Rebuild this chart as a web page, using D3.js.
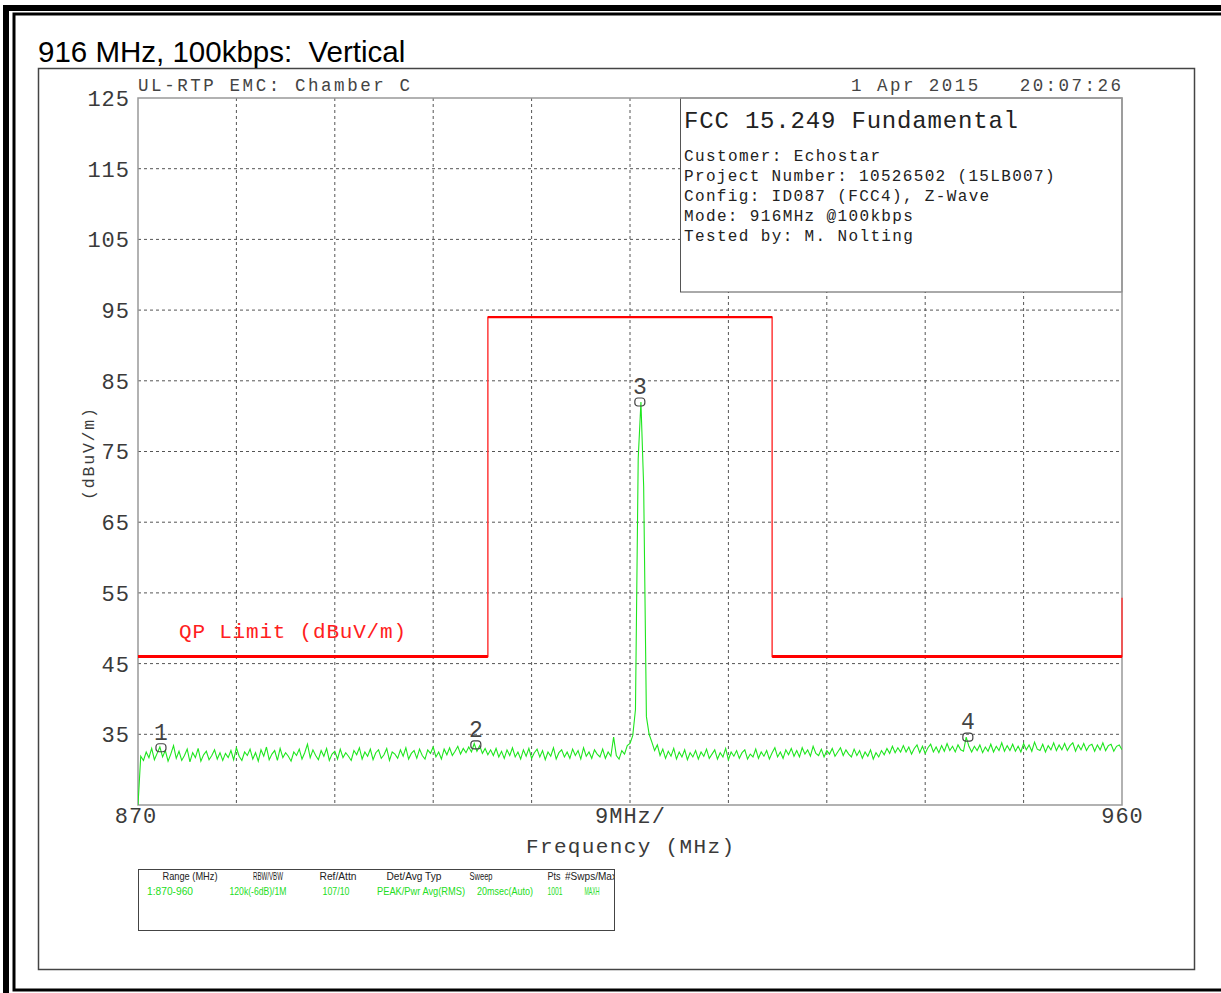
<!DOCTYPE html>
<html lang="en">
<head>
<meta charset="UTF-8">
<title>916 MHz, 100kbps: Vertical</title>
<script src="https://cdn.jsdelivr.net/npm/d3@7"></script>
<style>
  body { margin: 0; background: #fff; }
  svg text { font-family: "Liberation Mono", "DejaVu Sans Mono", monospace; white-space: pre; }
</style>
</head>
<body>
<svg id="main" width="1221" height="993"></svg>
<script>
// ---- data ----
const title = '916 MHz, 100kbps:  Vertical';
const siteLabel = 'UL-RTP EMC: Chamber C';
const dateLabel = '1 Apr 2015   20:07:26';
const infoTitle = 'FCC 15.249 Fundamental';
const infoLines = [
    'Customer: Echostar',
    'Project Number: 10526502 (15LB007)',
    'Config: ID087 (FCC4), Z-Wave',
    'Mode: 916MHz @100kbps',
    'Tested by: M. Nolting'
];

const yTicks = [35, 45, 55, 65, 75, 85, 95, 105, 115, 125];
const xGridFreqs = [879, 888, 897, 906, 915, 924, 933, 942, 951];
const xTickFreqs = [870, 915, 960];
const xTickLabels = ['870', '9MHz/', '960'];

// measured trace, one value every 0.25 MHz from 870 to 960 MHz (dBuV/m)
const traceStart = 870, traceStep = 0.25;
const traceLevels = [
    25.0, 31.9, 31.3, 32.5, 31.7, 33.0, 31.4, 32.3, 33.2, 31.8, 32.7, 31.2, 32.2, 33.4, 31.6, 32.6, 31.3, 32.0, 32.9, 31.1,
    32.4, 31.7, 33.0, 31.2, 32.1, 32.6, 31.4, 32.0, 32.8, 31.5, 32.4, 31.3, 32.3, 31.7, 32.7, 31.4, 33.1, 31.9, 31.3, 32.5,
    32.0, 32.9, 31.5, 32.4, 31.2, 32.8, 31.9, 33.2, 31.4, 32.2, 32.7, 31.3, 33.0, 31.7, 32.4, 31.9, 31.2, 32.5, 32.0, 32.9,
    31.5, 32.4, 33.6, 31.7, 32.8, 32.0, 31.4, 32.7, 31.9, 33.0, 31.3, 32.2, 32.6, 31.5, 32.9, 31.7, 32.4, 31.9, 31.3, 32.7,
    32.1, 33.1, 31.5, 32.5, 31.9, 32.9, 31.4, 32.4, 32.8, 31.6, 32.1, 33.0, 31.3, 32.5, 32.2, 31.6, 32.8, 31.9, 33.1, 31.5,
    32.3, 32.7, 31.6, 32.9, 32.0, 31.5, 32.8, 32.3, 33.2, 31.8, 32.5, 31.5, 32.9, 32.1, 33.1, 32.0, 32.6, 33.3, 32.2, 33.0,
    32.4, 33.2, 32.5, 33.7, 32.6, 33.4, 32.3, 33.0, 32.1, 32.8, 32.0, 33.0, 31.8, 32.6, 31.6, 32.8, 32.0, 33.1, 31.8, 32.5,
    31.5, 32.8, 31.9, 33.0, 31.6, 32.4, 32.9, 31.8, 32.7, 31.4, 32.5, 31.9, 33.1, 31.5, 32.4, 32.8, 31.8, 32.5, 31.6, 32.9,
    32.0, 32.7, 31.5, 33.1, 31.9, 32.5, 31.6, 32.8, 32.2, 31.8, 32.9, 31.6, 32.5, 31.9, 34.6, 32.0, 31.5, 32.7, 32.2, 33.4,
    33.7, 34.8, 38.5, 74.0, 82.0, 70.0, 37.5, 35.0, 33.9, 32.7, 33.5, 32.0, 32.9, 31.6, 32.6, 31.9, 33.0, 31.5, 32.5, 31.8,
    32.8, 31.4, 32.4, 31.8, 32.7, 31.5, 32.5, 31.9, 32.9, 31.6, 32.2, 32.8, 31.5, 32.4, 31.8, 33.0, 31.4, 32.5, 31.9, 32.7,
    31.6, 32.4, 32.8, 31.5, 32.2, 31.8, 32.9, 31.6, 32.5, 31.9, 32.7, 31.5, 32.4, 33.1, 31.8, 32.5, 31.6, 32.8, 32.1, 33.0,
    31.9, 32.7, 31.8, 33.1, 32.2, 32.8, 31.9, 33.3, 32.3, 32.0, 32.9, 31.8, 32.7, 32.2, 33.0, 31.9, 32.5, 33.1, 32.0, 32.8,
    32.2, 31.8, 32.9, 32.0, 32.7, 31.6, 32.5, 31.9, 32.8, 31.5, 32.4, 31.8, 32.7, 32.1, 33.0, 32.3, 33.3, 32.4, 33.1, 32.5,
    33.4, 32.5, 33.2, 32.2, 33.0, 33.5, 32.4, 33.3, 32.3, 33.1, 33.6, 32.5, 33.2, 32.4, 33.4, 32.6, 33.7, 32.7, 33.3, 32.5,
    33.5, 32.8, 32.6, 34.6, 33.3, 32.5, 33.3, 32.7, 33.5, 32.4, 33.2, 32.6, 33.6, 32.5, 33.3, 32.7, 33.8, 32.6, 33.4, 32.7,
    33.6, 32.6, 33.3, 32.5, 33.7, 32.8, 33.5, 32.6, 33.9, 32.9, 32.7, 33.6, 32.5, 33.4, 32.8, 33.8, 32.7, 33.5, 32.8, 33.7,
    32.7, 33.4, 33.8, 32.6, 33.5, 32.8, 33.7, 32.7, 33.4, 33.6, 32.6, 33.5, 32.8, 33.8, 32.7, 33.4, 33.6, 32.6, 33.3, 33.5,
    32.8
];

// FCC limit line
const limitFreqs  = [870, 902, 902, 928, 928, 960, 960];
const limitLevels = [46, 46, 94, 94, 46, 46, 54.3];
const limitLabel = 'QP Limit (dBuV/m)';

// markers
const markerIds    = ['1', '2', '3', '4'];
const markerFreqs  = [872.1, 900.9, 915.9, 945.9];
const markerLevels = [33.1, 33.5, 82.0, 34.6];

// settings table under the plot
const tableHeads  = ['Range (MHz)', 'RBW/VBW', 'Ref/Attn', 'Det/Avg Typ', 'Sweep', 'Pts', '#Swps/Max'];
const tableValues = ['1:870-960', '120k(-6dB)/1M', '107/10', 'PEAK/Pwr Avg(RMS)', '20msec(Auto)', '1001', 'MAXH'];

// ---- drawing ----
let svg = d3.select('svg#main');
let plotL = 138, plotR = 1122, plotT = 98, plotB = 805;

let x = d3.scaleLinear().domain([870, 960]).range([plotL, plotR]);
let y = d3.scaleLinear().domain([25, 125]).range([plotB, plotT]);

function txt(g, s, px, py, size, opts) {
    opts = opts || {};
    let t = g.append('text')
        .attr('x', px).attr('y', py)
        .attr('font-size', size)
        .attr('fill', opts.fill || '#3a3a3a')
        .attr('text-anchor', opts.anchor || 'start')
        .text(s);
    if (opts.len) t.attr('textLength', opts.len).attr('lengthAdjust', opts.adjust || 'spacing');
    if (opts.family) t.style('font-family', opts.family);
    return t;
}

// page frame
svg.append('rect').attr('x', 3).attr('y', 5).attr('width', 6).attr('height', 988).attr('fill', '#000');
svg.append('rect').attr('x', 3).attr('y', 5).attr('width', 1218).attr('height', 6).attr('fill', '#000');
svg.append('rect').attr('x', 14).attr('y', 14).attr('width', 1230).attr('height', 976)
    .attr('fill', 'none').attr('stroke', '#000').attr('stroke-width', 3);
svg.append('rect').attr('x', 38.5).attr('y', 68.5).attr('width', 1156).attr('height', 901)
    .attr('fill', 'none').attr('stroke', '#444').attr('stroke-width', 1.5);

txt(svg, title, 38, 62, 29.5, {fill: '#000', family: '"Liberation Sans", Arial, sans-serif'});

// grid
svg.append('g').selectAll('line').data(yTicks.slice(0, -1)).enter().append('line')
    .attr('x1', plotL).attr('x2', plotR)
    .attr('y1', d => y(d)).attr('y2', d => y(d))
    .attr('stroke', '#555').attr('stroke-width', 1).attr('stroke-dasharray', '3,3');
svg.append('g').selectAll('line').data(xGridFreqs).enter().append('line')
    .attr('x1', d => x(d)).attr('x2', d => x(d))
    .attr('y1', plotT).attr('y2', plotB)
    .attr('stroke', '#555').attr('stroke-width', 1).attr('stroke-dasharray', '3,3');

// y axis labels
let yAxis = svg.append('g')
    .attr('transform', 'translate(' + plotL + ',0)')
    .call(d3.axisLeft(y).tickValues(yTicks).tickSize(0).tickPadding(8));
yAxis.select('.domain').remove();
yAxis.selectAll('text')
    .attr('font-size', 22).attr('fill', '#3a3a3a').attr('dy', '0.34em')
    .attr('letter-spacing', 1)
    .style('font-family', '"Liberation Mono", monospace');

// x axis labels
let xAxis = svg.append('g')
    .attr('transform', 'translate(0,' + plotB + ')')
    .call(d3.axisBottom(x).tickValues(xTickFreqs).tickSize(0).tickPadding(2)
        .tickFormat((d, i) => xTickLabels[i]));
xAxis.select('.domain').remove();
xAxis.selectAll('text')
    .attr('font-size', 22).attr('fill', '#3a3a3a').attr('dy', '0.72em')
    .attr('letter-spacing', 1)
    .style('font-family', '"Liberation Mono", monospace');
xAxis.selectAll('.tick').filter((d, i) => i === 0).attr('transform', 'translate(' + (x(870) - 2) + ',0)');

txt(svg, 'Frequency (MHz)', 630, 853, 21, {anchor: 'middle', len: 208});
svg.append('g').attr('transform', 'translate(94,454) rotate(-90)')
    .call(g => txt(g, '(dBuV/m)', 0, 0, 16.5, {anchor: 'middle', len: 92}));

txt(svg, siteLabel, plotL, 91, 17.5, {fill: '#444', len: 272});
txt(svg, dateLabel, 1121, 91, 17.5, {fill: '#444', anchor: 'end', len: 270});

// info box
svg.append('rect').attr('x', 680.5).attr('y', plotT).attr('width', plotR - 680.5).attr('height', 194)
    .attr('fill', '#fff').attr('stroke', '#555').attr('stroke-width', 1);
txt(svg, infoTitle, 684, 128, 24, {fill: '#222', len: 334});
svg.append('g').selectAll('text').data(infoLines).enter().append('text')
    .attr('x', 684).attr('y', (d, i) => 161 + i * 20)
    .attr('font-size', 16).attr('fill', '#222')
    .attr('textLength', d => d.length * 10.9).attr('lengthAdjust', 'spacing')
    .text(d => d);

// plot border
svg.append('rect').attr('x', plotL).attr('y', plotT).attr('width', plotR - plotL).attr('height', plotB - plotT)
    .attr('fill', 'none').attr('stroke', '#999').attr('stroke-width', 1.5);

// limit line
let limitData = limitFreqs.map((f, i) => [f, limitLevels[i]]);
svg.append('path').datum(limitData)
    .attr('d', d3.line().x(d => x(d[0])).y(d => y(d[1])))
    .attr('fill', 'none').attr('stroke', '#ff3b3b').attr('stroke-width', 1.5);
svg.append('g').selectAll('line')
    .data(d3.pairs(limitData).filter(p => p[0][1] === p[1][1]))
    .enter().append('line')
    .attr('x1', p => x(p[0][0])).attr('x2', p => x(p[1][0]))
    .attr('y1', p => y(p[0][1])).attr('y2', p => y(p[1][1]))
    .attr('stroke', '#ff0000').attr('stroke-width', p => p[0][1] < 50 ? 3 : 2.2);
txt(svg, limitLabel, 179, 638, 21, {fill: '#ff2020', len: 227});

// trace
svg.append('clipPath').attr('id', 'plotClip').append('rect')
    .attr('x', plotL).attr('y', plotT).attr('width', plotR - plotL).attr('height', plotB - plotT);
svg.append('path').datum(traceLevels)
    .attr('clip-path', 'url(#plotClip)')
    .attr('d', d3.line().x((d, i) => x(traceStart + i * traceStep)).y(d => y(d)))
    .attr('fill', 'none').attr('stroke', '#1ee61e').attr('stroke-width', 1.1);

// markers
let mk = svg.append('g').selectAll('g').data(markerIds).enter().append('g')
    .attr('transform', (d, i) => 'translate(' + x(markerFreqs[i]) + ',' + y(markerLevels[i]) + ')');
mk.append('rect').attr('x', -5).attr('y', -4).attr('width', 10).attr('height', 8).attr('rx', 3)
    .attr('fill', 'none').attr('stroke', '#444').attr('stroke-width', 1.2);
mk.append('text').attr('x', 0).attr('y', -8).attr('text-anchor', 'middle')
    .attr('font-size', 23).attr('fill', '#444').text(d => d);

// settings table
let tb = svg.append('g');
svg.append('clipPath').attr('id', 'tableClip').append('rect')
    .attr('x', 138).attr('y', 869).attr('width', 476).attr('height', 61);
tb.append('rect').attr('x', 138.5).attr('y', 869.5).attr('width', 476).attr('height', 61)
    .attr('fill', 'none').attr('stroke', '#444').attr('stroke-width', 1);
let headCols = [[190, 55], [268, 30], [338, 37], [414, 55], [481, 23], [554, 13], [591, 52]];
let valCols  = [[170, 46], [258, 57], [336, 27], [421, 88], [505, 56], [555, 15], [592, 15]];
let tg = tb.append('g').attr('clip-path', 'url(#tableClip)');
tableHeads.forEach((s, i) => txt(tg, s, headCols[i][0], 880, 11,
    {anchor: 'middle', fill: '#222', len: headCols[i][1], adjust: 'spacingAndGlyphs', family: '"Liberation Sans", sans-serif'}));
tableValues.forEach((s, i) => txt(tg, s, valCols[i][0], 895, 11,
    {anchor: 'middle', fill: '#22dd22', len: valCols[i][1], adjust: 'spacingAndGlyphs', family: '"Liberation Sans", sans-serif'}));
</script>
</body>
</html>
